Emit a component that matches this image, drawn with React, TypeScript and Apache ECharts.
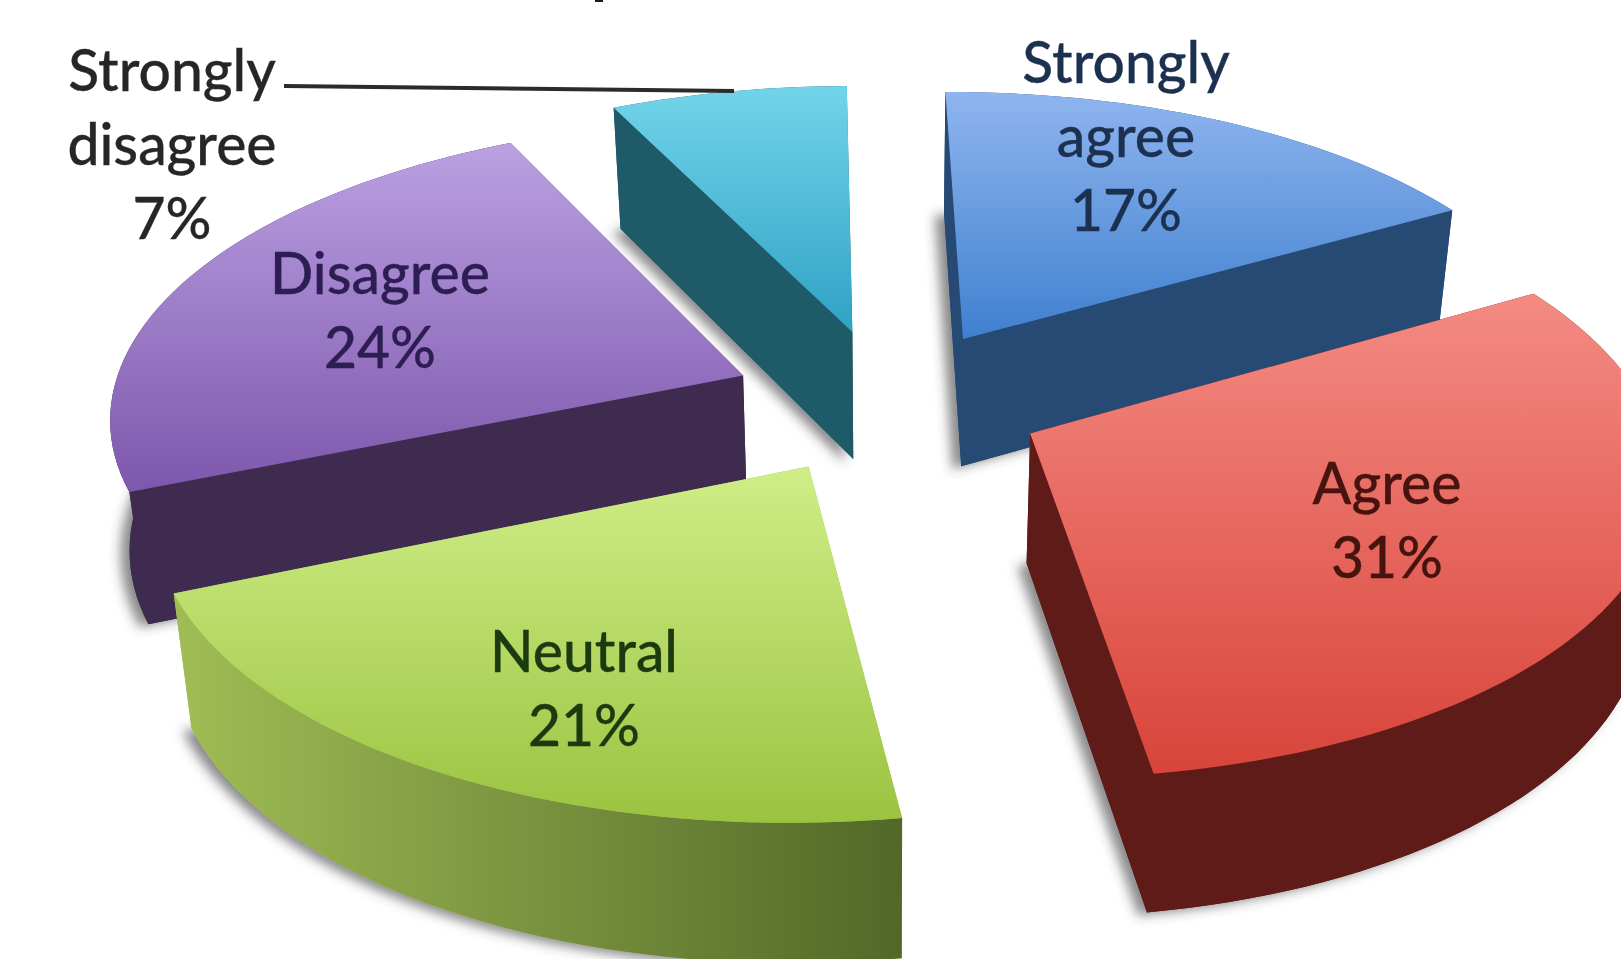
import React, { useEffect, useRef } from "react";
import * as echarts from "echarts";

// Responses, clockwise from twelve o'clock
const categories = ["Strongly agree", "Agree", "Neutral", "Disagree", "Strongly disagree"];
const shares = [17, 31, 21, 24, 7];

// Back-to-front painting rank of each slice
const paintRank = [1, 3, 4, 2, 0];

const topColors = [
  ["#8fb5ef", "#3f80cf"],
  ["#f48b83", "#d8443a"],
  ["#cfee88", "#9bc340"],
  ["#bba0e2", "#7d57ac"],
  ["#72d4ea", "#2fa2c5"],
];
const wallColors = [
  ["#264a74", "#264a74"],
  ["#5f1b18", "#5f1b18"],
  ["#a0bd55", "#526828"],
  ["#3f2a50", "#3f2a50"],
  ["#1f5a68", "#1f5a68"],
];
const labelColors = ["#1c3050", "#46130f", "#1c3a10", "#2c1d52", "#262626"];
const labelAnchors = [
  [1126, 135],
  [1387, 519],
  [584, 687],
  [380, 309],
  [172, 143],
];

// Tilted-plane projection of the pie
const CX = 888;
const CY = 401;
const RX = 625;
const RY = 293;
const PERSPECTIVE = 0.126;
const ROLL = 0.008;
const DEPTH = 129;
const EXPLODE = 0.25;
const START_DEG = -1;
const TAPER = 0.025;
const LABEL_FONT = '500 57px Lato, "Noto Sans", sans-serif';

const project = (u: number, v: number, h: number): [number, number] => {
  const w = 1 - PERSPECTIVE * v + ROLL * u;
  return [CX + ((RX * u) / w) * (1 - TAPER * h), CY + (RY * v) / w + (h * DEPTH) / Math.sqrt(w)];
};

const total = shares.reduce((a, b) => a + b, 0);
const startAngles: number[] = [];
shares.reduce((acc, s, i) => {
  startAngles[i] = acc;
  return acc + (s / total) * 360;
}, START_DEG);

const renderSlice = (_params: any, api: any) => {
  const i = api.value(0) as number;
  const sweep = ((api.value(1) as number) / total) * Math.PI * 2;
  const a0 = (startAngles[i] * Math.PI) / 180;
  const a1 = a0 + sweep;
  const mid = (a0 + a1) / 2;
  const ou = EXPLODE * Math.sin(mid);
  const ov = -EXPLODE * Math.cos(mid);

  const steps = Math.max(8, Math.round(sweep / 0.03));
  const rim = (h: number) => {
    const out: [number, number][] = [];
    for (let s = 0; s <= steps; s++) {
      const t = a0 + (sweep * s) / steps;
      out.push(project(ou + Math.sin(t), ov - Math.cos(t), h));
    }
    return out;
  };
  const rimTop = rim(0);
  const rimBottom = rim(1);
  const apexTop = project(ou, ov, 0);
  const apexBottom = project(ou, ov, 1);
  const base = paintRank[i] * 10;

  const vertical = (c: string[]) =>
    new echarts.graphic.LinearGradient(0, 0, 0, 1, [
      { offset: 0, color: c[0] },
      { offset: 1, color: c[1] },
    ]);
  const horizontal = (c: string[]) =>
    new echarts.graphic.LinearGradient(0, 0, 1, 0, [
      { offset: 0, color: c[0] },
      { offset: 1, color: c[1] },
    ]);
  const wall = wallColors[i][0];

  const children: any[] = [
    // Underside, carrying the soft cast shadow
    {
      type: "polygon",
      z2: base,
      shape: { points: [apexBottom, ...rimBottom] },
      style: {
        fill: wall,
        shadowColor: "rgba(60,60,60,0.6)",
        shadowBlur: 12,
        shadowOffsetX: -9,
        shadowOffsetY: 3,
      },
    },
    {
      type: "polygon",
      z2: base + 1,
      shape: { points: [apexTop, rimTop[0], rimBottom[0], apexBottom] },
      style: { fill: wall },
    },
    {
      type: "polygon",
      z2: base + 1,
      shape: { points: [apexTop, rimTop[steps], rimBottom[steps], apexBottom] },
      style: { fill: wall },
    },
    {
      type: "polygon",
      z2: base + 2,
      shape: { points: [...rimTop, ...rimBottom.slice().reverse()] },
      style: { fill: horizontal(wallColors[i]) },
    },
    {
      type: "polygon",
      z2: base + 3,
      shape: { points: [apexTop, ...rimTop] },
      style: { fill: vertical(topColors[i]) },
    },
    {
      type: "text",
      z2: 100,
      style: {
        text: `${categories[i].split(" ").join("\n")}\n${api.value(1)}%`,
        x: labelAnchors[i][0],
        y: labelAnchors[i][1],
        fill: labelColors[i],
        stroke: labelColors[i],
        lineWidth: 0.3,
        font: LABEL_FONT,
        lineHeight: 74,
        align: "center",
        verticalAlign: "middle",
      },
    },
  ];
  return { type: "group", children };
};

export default function App() {
  const ref = useRef<HTMLDivElement>(null);
  useEffect(() => {
    document.body.style.margin = "0";
    document.body.style.overflow = "hidden";
    const chart = echarts.init(ref.current!, null, { renderer: "svg" });
    chart.setOption({
      animation: false,
      backgroundColor: "#ffffff",
      graphic: [
        {
          type: "line",
          z: 10,
          shape: { x1: 284, y1: 86, x2: 734, y2: 91 },
          style: { stroke: "#2b2b2b", lineWidth: 4 },
        },
        {
          type: "rect",
          z: 10,
          shape: { x: 595, y: 0, width: 8, height: 2 },
          style: { fill: "#1a1a1a" },
        },
      ],
      series: [
        {
          type: "custom",
          coordinateSystem: "none",
          renderItem: renderSlice,
          data: shares.map((s, i) => [i, s]),
        },
      ],
    });
    return () => chart.dispose();
  }, []);
  return <div ref={ref} style={{ width: 1621, height: 959 }} />;
}
